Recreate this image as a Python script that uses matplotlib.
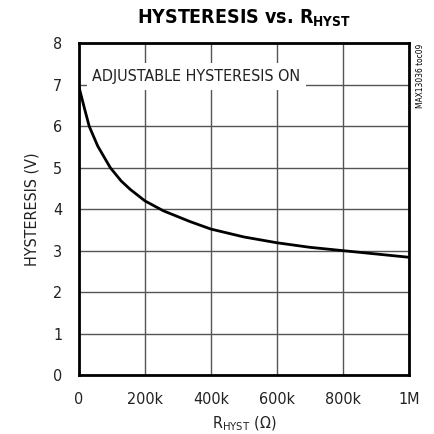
import numpy as np
import matplotlib
matplotlib.use('Agg')
from matplotlib import pyplot as plt
from matplotlib import font_manager as fm

# hysteresis vs R_HYST
r_hyst_k = [0, 16, 31, 57, 95, 128, 155, 200, 256, 337, 400, 500, 600, 700, 800, 900, 1000]
hyst_v = [6.95, 6.45, 6.0, 5.52, 5.0, 4.68, 4.48, 4.2, 3.96, 3.70, 3.52, 3.33, 3.19, 3.08, 3.0, 2.92, 2.84]

x_ticks = [0, 200, 400, 600, 800, 1000]
x_labels = ['0', '200k', '400k', '600k', '800k', '1M']
y_ticks = [0, 1, 2, 3, 4, 5, 6, 7, 8]

# look for a narrow face, the reference uses a condensed sans
names = {f.name: f for f in fm.fontManager.ttflist}
narrow = [f for f in fm.fontManager.ttflist
          if 'Narrow' in f.name or 'Condensed' in f.name or 'ondensed' in f.fname]
if 'Liberation Sans Narrow' in names:
    fam = 'Liberation Sans Narrow'
    stretch = 'normal'
elif any('DejaVuSansCondensed' in f.fname for f in narrow):
    fam = 'DejaVu Sans'
    stretch = 'condensed'
elif narrow:
    fam = narrow[0].name
    stretch = narrow[0].stretch
else:
    fam = 'Liberation Sans'
    stretch = 'normal'

plt.rcParams['font.family'] = [fam, 'DejaVu Sans']
plt.rcParams['font.stretch'] = stretch
plt.rcParams['mathtext.fontset'] = 'custom'
plt.rcParams['mathtext.rm'] = fam
plt.rcParams['mathtext.bf'] = fam + ':bold'

fig = plt.figure(figsize=(4.34, 4.34), dpi=100)
ax = fig.add_axes([0.182, 0.136, 0.760, 0.764])

ax.plot(r_hyst_k, hyst_v, color='black', lw=2.0, solid_capstyle='butt',
        solid_joinstyle='round', zorder=3)

ax.set_xlim(0, 1000)
ax.set_ylim(0, 8)
ax.set_xticks(x_ticks)
ax.set_xticklabels(x_labels)
ax.set_yticks(y_ticks)
ax.tick_params(length=0, labelsize=11.5, pad=12, colors='#222222')
ax.grid(True, color='#555555', lw=1.0)
ax.set_axisbelow(True)
for s in ax.spines.values():
    s.set_linewidth(2.0)

ax.set_xlabel(r'R$_{\mathregular{HYST}}$ ($\Omega$)', fontsize=11.5, labelpad=6, color='#222222')
ax.set_ylabel('HYSTERESIS (V)', fontsize=11.5, labelpad=10, color='#222222')

ax.text(0.04, 0.90, 'ADJUSTABLE HYSTERESIS ON', transform=ax.transAxes,
        fontsize=11.5, color='#222222', va='center', ha='left',
        bbox=dict(facecolor='white', edgecolor='none', pad=4), zorder=2)

fig.text(0.562, 0.958, r'HYSTERESIS vs. R$_{\mathbf{HYST}}$', ha='center', va='center',
         fontsize=14, fontweight='bold')

fig.text(0.968, 0.90, 'MAX13036 toc09', rotation=90, ha='center', va='top', fontsize=6)

fig.savefig('out.png', dpi=100)
